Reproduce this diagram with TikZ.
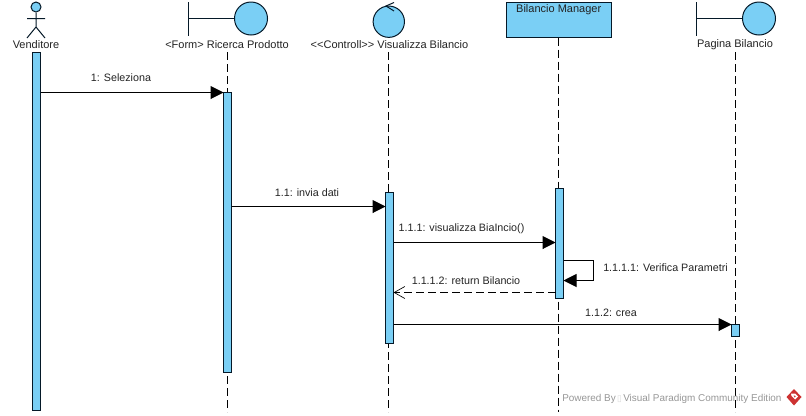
\documentclass[tikz,border=0pt]{standalone}
\usepackage{fontspec}
\setmainfont{Liberation Sans}
\newfontfamily\symfont{DejaVu Sans}
\usetikzlibrary{arrows.meta}
\definecolor{fillblue}{RGB}{122,207,245}
\definecolor{linecol}{RGB}{5,25,40}
\definecolor{textcol}{RGB}{35,35,35}
\definecolor{wmgrey}{RGB}{150,150,150}
\definecolor{logored}{RGB}{205,50,50}
\tikzset{
  px/.style={x=0.75pt,y=-0.75pt},
  shapeline/.style={draw=linecol,line width=0.75pt},
  filled/.style={shapeline,fill=fillblue},
  activation/.style={filled,inner sep=0pt,outer sep=0pt,minimum width=6pt,anchor=north},
  bubble/.style={filled,circle,inner sep=0pt,minimum size=24.75pt},
  lifelabel/.style={font=\fontsize{8.25}{9.6}\selectfont,text=textcol,inner sep=0pt},
  msglabel/.style={font=\fontsize{8.05}{9.6}\selectfont,text=textcol,inner sep=0pt},
  lifeline/.style={black,line width=0.75pt,dash pattern=on 6pt off 3pt},
  msg/.style={black,line width=0.75pt,-{Triangle[length=9.75pt,width=9.75pt]}},
  reply/.style={black,line width=0.75pt,dash pattern=on 6pt off 3pt,-{Straight Barb[length=8pt,width=9pt,line width=0.5pt]}}
}
\begin{document}
\begin{tikzpicture}[px]
\useasboundingbox (0,0) rectangle (806,415);
% heads
\node[filled,circle,inner sep=0pt,minimum size=7.5pt] (vhead) at (36,7) {};
\coordinate (vhip) at (36,27);
\coordinate (vla) at (27,18.5);
\coordinate (vra) at (45,18.5);
\coordinate (vll) at (27,38);
\coordinate (vrl) at (45,38);
\draw[shapeline] (vhead.south) -- (vhip) (vla) -- (vra) (vll) -- (vhip) -- (vrl);
\node[lifelabel] (vlabel) at (36,45) {Venditore};

\node[bubble] (rb) at (251,18.5) {};
\coordinate (rbar1) at (188.5,2);
\coordinate (rbar2) at (188.5,35.5);
\draw[shapeline] (rbar1) -- (rbar2) (188.5,18.5) -- (rb.west);
\node[lifelabel] (rlabel) at (227,45) {<Form> Ricerca Prodotto};

\node[filled,circle,inner sep=0pt,minimum size=23.5pt] (cb) at (388.8,21.7) {};
\coordinate (ctip) at (386,6);
\draw[shapeline] (394,2.5) -- (ctip) -- (394,11);
\node[lifelabel] (clabel) at (389.5,45) {<{}<Controll>{}> Visualizza Bilancio};

\node[filled,rectangle,inner sep=0pt,outer sep=0pt,minimum width=78.75pt,minimum height=26.25pt] (mbox) at (559,20) {};
\node[lifelabel] (mlabel) at (558.7,10) {Bilancio Manager};

\node[bubble] (pb) at (759,18.5) {};
\coordinate (pbar1) at (696.5,2);
\coordinate (pbar2) at (696.5,35.5);
\draw[shapeline] (pbar1) -- (pbar2) (696.5,18.5) -- (pb.west);
\node[lifelabel] (plabel) at (735,45) {Pagina Bilancio};

% lifelines end
\coordinate (rend) at (227.5,412);
\coordinate (cend) at (388.5,412);
\coordinate (mend) at (558.5,412);
\coordinate (pend) at (735.5,412);
\draw[lifeline] (227.5,52) -- (rend);
\draw[lifeline] (388.5,52) -- (cend);
\draw[lifeline] (558.5,37.5) -- (mend);
\draw[lifeline] (735.5,52) -- (pend);

% activations
\node[activation,minimum height=268.5pt] (va) at (36.5,52.5) {};
\node[activation,minimum height=210pt] (ra) at (227.5,92.5) {};
\node[activation,minimum height=113.25pt] (ca) at (389.5,192.5) {};
\node[activation,minimum height=82.5pt] (ma) at (559.5,188.5) {};
\node[activation,minimum height=9pt] (pa) at (735.5,324.5) {};

% messages
\draw[msg] (va.east |- 0,92.5) -- (ra.west |- 0,92.5);
\node[msglabel] (m1) at (121,78) {1: Seleziona};
\draw[msg] (ra.east |- 0,206.5) -- (ca.west |- 0,206.5);
\node[msglabel] (m2) at (307,193) {1.1: invia dati};
\draw[msg] (ca.east |- 0,242.5) -- (ma.west |- 0,242.5);
\node[msglabel] (m3) at (461.5,228.5) {1.1.1: visualizza BiaIncio()};
\coordinate (sa) at (593.5,260.5);
\coordinate (sb) at (593.5,280.5);
\draw[msg] (ma.east |- sa) -- (sa) -- (sb) -- (ma.east |- sb);
\node[msglabel,anchor=west] (m4) at (603,268) {1.1.1.1: Verifica Parametri};
\draw[reply] (ma.west |- 0,292.5) -- (ca.east |- 0,292.5);
\node[msglabel] (m5) at (466,280.5) {1.1.1.2: return Bilancio};
\draw[msg] (ca.east |- 0,324.5) -- (pa.west |- 0,324.5);
\node[msglabel] (m6) at (611,312.5) {1.1.2: crea};

% watermark
\node[font=\fontsize{7.45}{9}\selectfont,text=wmgrey,inner sep=0pt,anchor=west] (wm) at (562,398.5) {Powered By\hspace{1pt}{\symfont\fontsize{6.5}{6}\selectfont\textcolor{gray!30}{▯}}\hspace{1pt}Visual Paradigm Community Edition};
\fill[logored] (794,389) -- (801.5,397) -- (794,405.5) -- (786.5,397) -- cycle;
\fill[white] (791,393.5) -- (795,393.5) -- (798,396.5) -- (795,399.5) -- (793,397.5) -- (791.5,396) -- cycle;
\fill[logored] (793.5,395.5) -- (795,395.5) -- (795.7,396.5) -- (794.7,397.5) -- cycle;
\end{tikzpicture}
\end{document}
